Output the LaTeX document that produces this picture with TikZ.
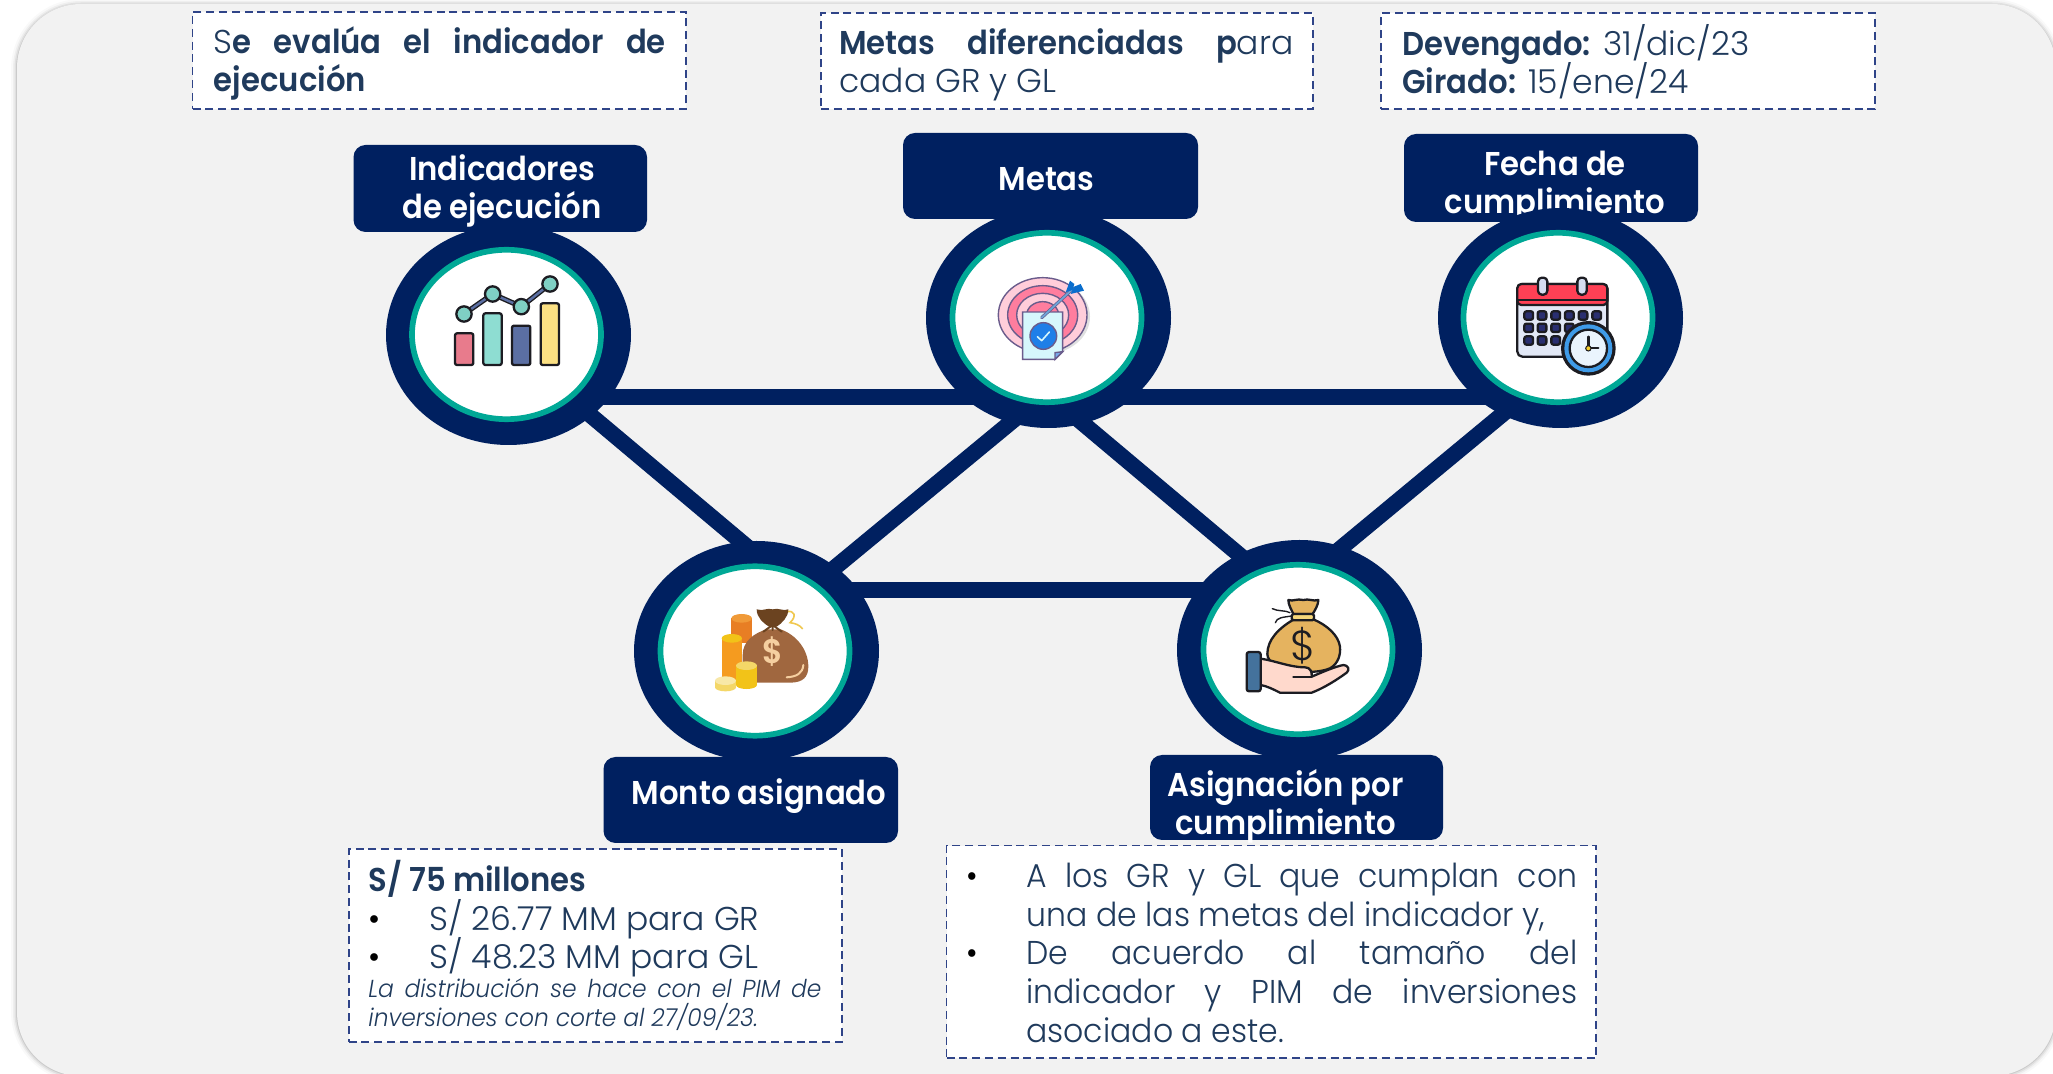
\documentclass[tikz,border=0pt]{standalone}
\usepackage{fontspec}
\setmainfont{Poppins Light}[BoldFont={Poppins SemiBold},BoldFeatures={FakeStretch=.93},ItalicFont={Poppins Light Italic},ItalicFeatures={FakeStretch=.95}]
\newfontfamily\narrowreg{Poppins Light}[FakeStretch=.955]
\usetikzlibrary{shapes.geometric}
\definecolor{navy}{HTML}{002060}
\definecolor{tealr}{HTML}{00A896}
\definecolor{panel}{HTML}{F2F2F2}
\definecolor{dashc}{HTML}{2F4488}
\definecolor{txt}{HTML}{1F3A5C}
\definecolor{kk}{HTML}{1C1C22}
\definecolor{barblue}{HTML}{5B6FA3}
\definecolor{barpink}{HTML}{E87B8C}
\definecolor{barteal}{HTML}{8EDDD2}
\definecolor{baryel}{HTML}{FBE083}
\definecolor{dotteal}{HTML}{7FD0C4}
\definecolor{tg}{HTML}{6A5C8C}
\definecolor{pk1}{HTML}{FFCDDA}
\definecolor{pk2}{HTML}{FF7D9E}
\definecolor{docf}{HTML}{D6F7FC}
\definecolor{fold}{HTML}{78AAEB}
\definecolor{chk}{HTML}{1E7FE8}
\definecolor{shaft}{HTML}{6EA5D7}
\definecolor{flet}{HTML}{0A6ECD}
\definecolor{calb}{HTML}{E2E8F6}
\definecolor{calr}{HTML}{FF4055}
\definecolor{calg}{HTML}{D5DDF0}
\definecolor{cald}{HTML}{2A2F70}
\definecolor{clk}{HTML}{3F9BE8}
\definecolor{clkf}{HTML}{EAF4FD}
\definecolor{clkd}{HTML}{F5CD28}
\definecolor{or1}{HTML}{E87E24}
\definecolor{or0}{HTML}{F09A38}
\definecolor{or2}{HTML}{F59B1F}
\definecolor{ye1}{HTML}{F2C318}
\definecolor{ye2}{HTML}{F4D768}
\definecolor{ye3}{HTML}{F8E8A8}
\definecolor{bg1}{HTML}{A0673F}
\definecolor{bg2}{HTML}{6B4320}
\definecolor{rope}{HTML}{F0C850}
\definecolor{hi}{HTML}{F5CFA0}
\definecolor{gold}{HTML}{E5B35F}
\definecolor{band}{HTML}{F6D77A}
\definecolor{skin}{HTML}{FFD9CC}
\definecolor{cuff}{HTML}{44729C}
\lineskiplimit=-20pt
\newcommand{\fst}{\rule{0pt}{15pt}}
\tikzset{
  dashbox/.style={rectangle,draw=dashc,fill=white,line width=.9pt,dash pattern=on 4pt off 2.4pt,outer sep=0,inner sep=0},
  lab/.style={rectangle,fill=navy,rounded corners=6pt,outer sep=0,inner sep=0},
  labtext/.style={anchor=north,align=center,text=white,inner sep=0,font=\fontsize{16.5}{19}\selectfont\bfseries},
  boxtext/.style={anchor=north west,align=left,text=txt,inner sep=0,font=\fontsize{16.5}{19.2}\selectfont},
  smalltext/.style={anchor=north west,align=left,text=txt,inner sep=0,font=\fontsize{12.3}{14.5}\selectfont\itshape},
  ring/.style={ellipse,fill=navy,minimum width=122.5pt,minimum height=110pt,inner sep=0,outer sep=0},
  hole/.style={ellipse,draw=tealr,fill=white,line width=2.85pt,minimum width=94.5pt,minimum height=84.7pt,inner sep=0,outer sep=0},
  link/.style={draw=navy,line width=8pt,shorten >=-4pt,shorten <=-4pt},
  hlink/.style={draw=navy,line width=8pt},
  ik/.style={draw=kk,line width=1.15pt,line join=round,line cap=round},
  tgl/.style={draw=tg,line width=.7pt},
  zoomed/.style={x=.16667pt,y=-.16667pt}
}
\begin{document}
\begin{tikzpicture}[x=.5pt,y=-.5pt]
\path[use as bounding box,clip] (0,0) rectangle (2053,1074);
\fill[white] (0,0) rectangle (2053,1074);
% panel with soft shadow
\foreach \w/\o in {6/.025,4/.04,2.5/.06,1/.09}{
  \draw[black,opacity=\o,line width=\w pt,rounded corners=32pt] (17,5) rectangle (2056,1076);}
\fill[panel,rounded corners=32pt] (17,4) rectangle (2056,1076);

% dashed boxes
\node[dashbox,minimum width=246.75pt,minimum height=48.5pt] (b1) at (439.25,60.5) {};
\node[dashbox,minimum width=246pt,minimum height=48pt] (b2) at (1067,61) {};
\node[dashbox,minimum width=247pt,minimum height=48pt] (b3) at (1628,61) {};
\node[dashbox,minimum width=246.7pt,minimum height=96.5pt] (b4) at (595.3,945.5) {};
\node[dashbox,minimum width=324.75pt,minimum height=106.2pt] (b5) at (1271.25,951.8) {};
\node[boxtext] (t1) at (213.5,23) {\fst\makebox[226pt][s]{S\textbf{e evalúa el indicador de}}\\\textbf{ejecución}};
\node[boxtext] (t2) at (839,24) {\fst\makebox[227pt][s]{\textbf{Metas diferenciadas p}ara}\\cada GR y GL};
\node[boxtext] (t3) at (1402,24) {\fst\textbf{Devengado:} 31/dic/23\\\textbf{Girado:} 15/ene/24};
\node[boxtext] (t4) at (368,860) {\fst\textbf{S/ 75 millones}\\\makebox[30.5pt][l]{\textcolor{black}{•}}S/ 26.77 MM para GR\\\makebox[30.5pt][l]{\textcolor{black}{•}}S/ 48.23 MM para GL};
\node[smalltext] (t4b) at (368,967) {\fst\makebox[226.5pt][s]{La distribución se hace con el PIM de}\\inversiones con corte al 27/09/23.};
\node[boxtext,font=\fontsize{16.5}{19.35}\selectfont\narrowreg] (t5) at (966,857) {\fst\makebox[30pt][l]{\textcolor{black}{•}}\makebox[275.5pt][s]{A los GR y GL que cumplan con}\\\hspace*{30pt}una de las metas del indicador y,\\\makebox[30pt][l]{\textcolor{black}{•}}\makebox[275.5pt][s]{De acuerdo al tamaño del}\\\hspace*{30pt}\makebox[275.5pt][s]{indicador y PIM de inversiones}\\\hspace*{30pt}asociado a este.};

% labels
\node[lab,minimum width=146.75pt,minimum height=43.5pt] (l1) at (500.25,188.5) {};
\node[lab,minimum width=147.5pt,minimum height=43pt] (l2) at (1050.5,176) {};
\node[lab,minimum width=147pt,minimum height=44pt] (l3) at (1551,178) {};
\node[lab,minimum width=147.25pt,minimum height=43pt] (l4) at (750.75,800) {};
\node[lab,minimum width=146.5pt,minimum height=42.5pt] (l5) at (1296.5,797.5) {};
\node[labtext] (lt1) at (502,150) {\fst Indicadores\\de ejecución};
\node[labtext] (lt2) at (1046.5,160) {\fst Metas};
\node[labtext] (lt3) at (1555,145) {\fst Fecha de\\cumplimiento};
\node[labtext] (lt4) at (759,774) {\fst Monto asignado};
\node[labtext] (lt5) at (1285.5,766) {\fst Asignación por\\cumplimiento};

% outer rings
\node[ring] (c1) at (508.5,335) {};
\node[ring] (c2) at (1048.5,318) {};
\node[ring] (c3) at (1560.5,318) {};
\node[ring] (c4) at (756.5,651) {};
\node[ring] (c5) at (1299.5,650) {};

% connectors
\draw[hlink] ([yshift=-31pt]c1.center) -- ([yshift=-39.5pt]c2.center);
\draw[hlink] ([yshift=-39.5pt]c2.center) -- ([yshift=-39.5pt]c3.center);
\draw[hlink] ([yshift=30.5pt]c4.center) -- ([yshift=30pt]c5.center);
\draw[link] ([shift={(41.75pt,-40.75pt)}]c1.center) -- ([shift={(-5.75pt,53pt)}]c4.center);
\draw[link] ([shift={(39.25pt,41.75pt)}]c4.center) -- ([shift={(-19.25pt,-52.5pt)}]c2.center);
\draw[link] ([shift={(17.25pt,-52.75pt)}]c2.center) -- ([shift={(-30pt,47.5pt)}]c5.center);
\draw[link] ([shift={(20.75pt,51pt)}]c5.center) -- ([shift={(-29.75pt,-48.75pt)}]c3.center);

% inner holes
\node[hole] (h1) at (506.5,334.5) {};
\node[hole] (h2) at (1047,317.5) {};
\node[hole] (h3) at (1558,317.5) {};
\node[hole] (h4) at (755,651) {};
\node[hole] (h5) at (1298,649.5) {};

% icon 1: chart
\begin{scope}[shift={(360,130)},zoomed]
\draw[kk,line width=2.6pt] (312,552)--(398,492)--(484,530)--(570,462);
\draw[barblue,line width=1.2pt] (312,552)--(398,492)--(484,530)--(570,462);
\draw[ik,fill=barpink,rounded corners=1pt] (285,610) rectangle (340,705);
\draw[ik,fill=barteal,rounded corners=1pt] (370,550) rectangle (425,705);
\draw[ik,fill=barblue,rounded corners=1pt] (456,587) rectangle (511,705);
\draw[ik,fill=baryel,rounded corners=1pt] (542,520) rectangle (597,705);
\foreach \p in {(312,552),(398,492),(484,530),(570,462)}{\draw[ik,fill=dotteal] \p circle[radius=23];}
\end{scope}

% icon 2: target and document
\begin{scope}[shift={(900,130)},zoomed]
\fill[black!12] (436,560) ellipse[x radius=134,y radius=112];
\draw[tgl,fill=pk1] (428,555) ellipse[x radius=133,y radius=112];
\draw[tgl,fill=pk2] (428,555) ellipse[x radius=105,y radius=88];
\draw[tgl,fill=pk1] (428,555) ellipse[x radius=78,y radius=65];
\draw[tgl,fill=pk2] (428,555) ellipse[x radius=48,y radius=40];
\draw[tgl,fill=docf] (368,546) -- (488,546) -- (488,665) -- (465,688) -- (368,688) -- cycle;
\draw[tgl,fill=fold] (488,665) -- (465,668) -- (465,688) -- cycle;
\draw[tgl,fill=chk] (430,618) circle[radius=40];
\draw[docf,line width=.8pt,line cap=round,line join=round] (412,620) -- (425,632) -- (448,606);
\draw[tg,line width=1.6pt,line cap=round] (425,563) -- (520,475);
\draw[shaft,line width=.9pt,line cap=round] (425,563) -- (520,475);
\fill[flet] (497,487) -- (510,452) -- (523,462) -- (518,480) -- cycle;
\fill[flet] (512,492) -- (552,482) -- (542,462) -- (522,470) -- cycle;
\end{scope}

% icon 3: calendar with clock
\begin{scope}[shift={(1400,130)},zoomed]
\draw[ik,fill=calb,rounded corners=2.5pt] (352,462) rectangle (622,680);
\draw[ik,fill=calr,rounded corners=2pt] (352,525) -- (352,462) -- (622,462) -- (622,525) -- cycle;
\draw[kk,line width=.7pt] (352,510) -- (622,510);
\foreach \x in {428,546}{\draw[ik,fill=calg,rounded corners=1.9pt] (\x-14,443) rectangle (\x+14,494);}
\foreach \x in {386,426,467,508,549,590}{\draw[ik,fill=cald,rounded corners=1pt] (\x-13,544) rectangle (\x+13,569);}
\foreach \x in {386,426,467,508}{\draw[ik,fill=cald,rounded corners=1pt] (\x-13,581) rectangle (\x+13,606);}
\foreach \x in {386,426,467}{\draw[ik,fill=cald,rounded corners=1pt] (\x-13,619) rectangle (\x+13,644);}
\fill[kk] (565,655) circle[radius=82];
\fill[clk] (565,655) circle[radius=72];
\draw[ik,fill=clkf] (565,655) circle[radius=56];
\draw[ik] (565,620) -- (565,655) -- (595,655);
\draw[kk,line width=.5pt,fill=clkd] (565,655) circle[radius=8];
\end{scope}

% icon 4: coins and brown bag
\begin{scope}[shift={(620,530)},zoomed]
\fill[or1] (334,265) rectangle (396,340);
\fill[or0] (365,265) ellipse[x radius=31,y radius=13];
\fill[bg1] (440,298) .. controls (400,310) and (368,335) .. (368,375) -- (368,458) -- (510,458) .. controls (550,458) and (565,440) .. (565,410) .. controls (565,360) and (530,315) .. (482,298) -- cycle;
\fill[or2] (305,325) rectangle (366,450);
\fill[ye1] (335.5,325) ellipse[x radius=30.5,y radius=13];
\fill[ye1] (348,407) rectangle (411,465);
\fill[ye1] (379.5,465) ellipse[x radius=31.5,y radius=12];
\fill[ye2] (379.5,407) ellipse[x radius=31.5,y radius=13];
\fill[ye2] (285,452) rectangle (348,472);
\fill[ye2] (316.5,472) ellipse[x radius=31.5,y radius=12];
\fill[ye3] (316.5,452) ellipse[x radius=31.5,y radius=13];
\draw[rope,line width=.8pt] (500,245) .. controls (525,240) and (530,260) .. (510,278) .. controls (525,280) and (540,285) .. (548,297);
\fill[bg2] (410,238) .. controls (430,245) and (440,232) .. (458,238) .. controls (475,232) and (490,245) .. (505,238) .. controls (505,262) and (485,280) .. (470,290) -- (447,290) .. controls (430,280) and (410,262) .. (410,238) -- cycle;
\draw[bg2,line width=1pt,line cap=round] (430,305) -- (458,285) -- (485,305) (458,270) -- (458,300);
\draw[hi,line width=1pt,line cap=round] (500,442) .. controls (530,440) and (548,430) .. (550,405);
\node[inner sep=0,text=hi,font=\fontsize{17}{17}\selectfont\bfseries] (dollar1) at (458,365) {\$};
\end{scope}

% icon 5: hand holding bag
\begin{scope}[shift={(1150,530)},zoomed]
\draw[kk,line width=.7pt,line cap=round] (367,236) .. controls (385,245) and (405,240) .. (420,248) (376,278) .. controls (380,262) and (400,262) .. (425,258);
\draw[ik,fill=gold] (432,268) .. controls (385,295) and (352,330) .. (352,372) .. controls (352,420) and (480,440) .. (540,415) .. controls (565,400) and (572,375) .. (570,350) .. controls (565,315) and (530,285) .. (490,268) -- cycle;
\draw[ik,fill=gold] (415,210) .. controls (430,215) and (440,205) .. (460,210) .. controls (475,205) and (490,215) .. (505,210) .. controls (505,225) and (495,240) .. (488,252) -- (430,252) .. controls (425,240) and (415,225) .. (415,210) -- cycle;
\draw[ik,fill=band,rounded corners=.8pt] (425,252) rectangle (492,271);
\node[inner sep=0,text=kk,font=\fontsize{21}{21}\selectfont] (dollar2) at (460,346) {\$};
\draw[ik,fill=skin] (332,386) .. controls (375,392) and (420,412) .. (465,412) .. controls (480,412) and (487,425) .. (485,440) .. controls (520,425) and (555,410) .. (580,405) .. controls (595,405) and (600,420) .. (590,428) .. controls (560,450) and (520,475) .. (485,488) -- (390,488) .. controls (370,478) and (350,468) .. (332,465) -- cycle;
\draw[ik] (430,441) -- (485,441);
\draw[ik,fill=cuff,rounded corners=1.2pt] (290,366) rectangle (332,484);
\end{scope}
\end{tikzpicture}
\end{document}
